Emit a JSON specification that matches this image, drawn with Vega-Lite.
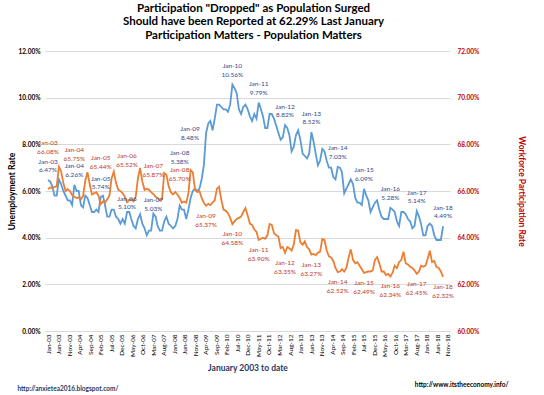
{
"$schema": "https://vega.github.io/schema/vega-lite/v6.json",
"width": 405, "height": 280,
"autosize": "none",
"padding": {"left": 45, "top": 51, "right": 94, "bottom": 64},
"background": "white",
"title": {"text": ["Participation \"Dropped\" as Population Surged", "Should have been Reported at 62.29%  Last January", "Participation Matters - Population Matters"], "fontSize": 11.5, "font": "Lato", "fontWeight": "bold", "lineHeight": 13.5, "anchor": "middle", "offset": 7, "dx": 6, "color": "#000000"},
"data": {"format": {"parse": {"d": "date:'%Y-%m'"}}, "values": [
{"d":"2003-01","u":0.0647,"p":0.6608},{"d":"2003-02","u":0.064,"p":0.6615},{"d":"2003-03","u":0.062,"p":0.6612},{"d":"2003-04","u":0.058,"p":0.6618},{"d":"2003-05","u":0.058,"p":0.6620},{"d":"2003-06","u":0.065,"p":0.6704},{"d":"2003-07","u":0.063,"p":0.6685},{"d":"2003-08","u":0.060,"p":0.6635},{"d":"2003-09","u":0.058,"p":0.6600},{"d":"2003-10","u":0.056,"p":0.6608},{"d":"2003-11","u":0.056,"p":0.6600},{"d":"2003-12","u":0.054,"p":0.6582},
{"d":"2004-01","u":0.0626,"p":0.6575},{"d":"2004-02","u":0.060,"p":0.6570},{"d":"2004-03","u":0.060,"p":0.6572},{"d":"2004-04","u":0.054,"p":0.6565},{"d":"2004-05","u":0.053,"p":0.6578},{"d":"2004-06","u":0.058,"p":0.6645},{"d":"2004-07","u":0.057,"p":0.6680},{"d":"2004-08","u":0.054,"p":0.6630},{"d":"2004-09","u":0.051,"p":0.6585},{"d":"2004-10","u":0.051,"p":0.6590},{"d":"2004-11","u":0.052,"p":0.6595},{"d":"2004-12","u":0.051,"p":0.6580},
{"d":"2005-01","u":0.0574,"p":0.6544},{"d":"2005-02","u":0.058,"p":0.6555},{"d":"2005-03","u":0.054,"p":0.6550},{"d":"2005-04","u":0.049,"p":0.6565},{"d":"2005-05","u":0.049,"p":0.6580},{"d":"2005-06","u":0.052,"p":0.6655},{"d":"2005-07","u":0.052,"p":0.6683},{"d":"2005-08","u":0.049,"p":0.6635},{"d":"2005-09","u":0.048,"p":0.6605},{"d":"2005-10","u":0.046,"p":0.6600},{"d":"2005-11","u":0.048,"p":0.6590},{"d":"2005-12","u":0.046,"p":0.6575},
{"d":"2006-01","u":0.0510,"p":0.6552},{"d":"2006-02","u":0.051,"p":0.6560},{"d":"2006-03","u":0.048,"p":0.6565},{"d":"2006-04","u":0.045,"p":0.6555},{"d":"2006-05","u":0.044,"p":0.6575},{"d":"2006-06","u":0.048,"p":0.6655},{"d":"2006-07","u":0.050,"p":0.6699},{"d":"2006-08","u":0.046,"p":0.6640},{"d":"2006-09","u":0.044,"p":0.6605},{"d":"2006-10","u":0.041,"p":0.6610},{"d":"2006-11","u":0.043,"p":0.6605},{"d":"2006-12","u":0.043,"p":0.6595},
{"d":"2007-01","u":0.0503,"p":0.6587},{"d":"2007-02","u":0.049,"p":0.6575},{"d":"2007-03","u":0.045,"p":0.6570},{"d":"2007-04","u":0.043,"p":0.6560},{"d":"2007-05","u":0.043,"p":0.6565},{"d":"2007-06","u":0.047,"p":0.6677},{"d":"2007-07","u":0.049,"p":0.6670},{"d":"2007-08","u":0.046,"p":0.6620},{"d":"2007-09","u":0.045,"p":0.6595},{"d":"2007-10","u":0.044,"p":0.6585},{"d":"2007-11","u":0.045,"p":0.6595},{"d":"2007-12","u":0.048,"p":0.6585},
{"d":"2008-01","u":0.0538,"p":0.6570},{"d":"2008-02","u":0.052,"p":0.6550},{"d":"2008-03","u":0.052,"p":0.6555},{"d":"2008-04","u":0.048,"p":0.6550},{"d":"2008-05","u":0.052,"p":0.6590},{"d":"2008-06","u":0.057,"p":0.6690},{"d":"2008-07","u":0.060,"p":0.6680},{"d":"2008-08","u":0.061,"p":0.6605},{"d":"2008-09","u":0.060,"p":0.6595},{"d":"2008-10","u":0.061,"p":0.6600},{"d":"2008-11","u":0.065,"p":0.6570},{"d":"2008-12","u":0.071,"p":0.6550},
{"d":"2009-01","u":0.0848,"p":0.6537},{"d":"2009-02","u":0.089,"p":0.6545},{"d":"2009-03","u":0.090,"p":0.6540},{"d":"2009-04","u":0.086,"p":0.6550},{"d":"2009-05","u":0.091,"p":0.6560},{"d":"2009-06","u":0.097,"p":0.6610},{"d":"2009-07","u":0.097,"p":0.6618},{"d":"2009-08","u":0.096,"p":0.6560},{"d":"2009-09","u":0.095,"p":0.6520},{"d":"2009-10","u":0.095,"p":0.6515},{"d":"2009-11","u":0.094,"p":0.6505},{"d":"2009-12","u":0.097,"p":0.6485},
{"d":"2010-01","u":0.1056,"p":0.6458},{"d":"2010-02","u":0.104,"p":0.6470},{"d":"2010-03","u":0.102,"p":0.6480},{"d":"2010-04","u":0.095,"p":0.6485},{"d":"2010-05","u":0.093,"p":0.6490},{"d":"2010-06","u":0.096,"p":0.6510},{"d":"2010-07","u":0.097,"p":0.6527},{"d":"2010-08","u":0.095,"p":0.6495},{"d":"2010-09","u":0.092,"p":0.6460},{"d":"2010-10","u":0.090,"p":0.6455},{"d":"2010-11","u":0.093,"p":0.6435},{"d":"2010-12","u":0.091,"p":0.6425},
{"d":"2011-01","u":0.0979,"p":0.6390},{"d":"2011-02","u":0.095,"p":0.6395},{"d":"2011-03","u":0.092,"p":0.6400},{"d":"2011-04","u":0.087,"p":0.6395},{"d":"2011-05","u":0.087,"p":0.6410},{"d":"2011-06","u":0.093,"p":0.6459},{"d":"2011-07","u":0.093,"p":0.6455},{"d":"2011-08","u":0.091,"p":0.6420},{"d":"2011-09","u":0.088,"p":0.6410},{"d":"2011-10","u":0.085,"p":0.6405},{"d":"2011-11","u":0.082,"p":0.6355},{"d":"2011-12","u":0.083,"p":0.6360},
{"d":"2012-01","u":0.0882,"p":0.6335},{"d":"2012-02","u":0.087,"p":0.6360},{"d":"2012-03","u":0.084,"p":0.6355},{"d":"2012-04","u":0.077,"p":0.6345},{"d":"2012-05","u":0.079,"p":0.6370},{"d":"2012-06","u":0.084,"p":0.6433},{"d":"2012-07","u":0.086,"p":0.6430},{"d":"2012-08","u":0.082,"p":0.6380},{"d":"2012-09","u":0.076,"p":0.6370},{"d":"2012-10","u":0.075,"p":0.6385},{"d":"2012-11","u":0.074,"p":0.6360},{"d":"2012-12","u":0.076,"p":0.6350},
{"d":"2013-01","u":0.0852,"p":0.6327},{"d":"2013-02","u":0.081,"p":0.6330},{"d":"2013-03","u":0.076,"p":0.6325},{"d":"2013-04","u":0.071,"p":0.6335},{"d":"2013-05","u":0.073,"p":0.6340},{"d":"2013-06","u":0.078,"p":0.6394},{"d":"2013-07","u":0.077,"p":0.6390},{"d":"2013-08","u":0.073,"p":0.6345},{"d":"2013-09","u":0.070,"p":0.6320},{"d":"2013-10","u":0.070,"p":0.6315},{"d":"2013-11","u":0.066,"p":0.6300},{"d":"2013-12","u":0.065,"p":0.6270},
{"d":"2014-01","u":0.0703,"p":0.6252},{"d":"2014-02","u":0.070,"p":0.6255},{"d":"2014-03","u":0.068,"p":0.6265},{"d":"2014-04","u":0.059,"p":0.6255},{"d":"2014-05","u":0.061,"p":0.6270},{"d":"2014-06","u":0.063,"p":0.6315},{"d":"2014-07","u":0.065,"p":0.6350},{"d":"2014-08","u":0.063,"p":0.6305},{"d":"2014-09","u":0.057,"p":0.6290},{"d":"2014-10","u":0.055,"p":0.6295},{"d":"2014-11","u":0.055,"p":0.6280},{"d":"2014-12","u":0.054,"p":0.6265},
{"d":"2015-01","u":0.0609,"p":0.6249},{"d":"2015-02","u":0.058,"p":0.6252},{"d":"2015-03","u":0.056,"p":0.6255},{"d":"2015-04","u":0.051,"p":0.6255},{"d":"2015-05","u":0.053,"p":0.6260},{"d":"2015-06","u":0.055,"p":0.6305},{"d":"2015-07","u":0.056,"p":0.6317},{"d":"2015-08","u":0.052,"p":0.6290},{"d":"2015-09","u":0.049,"p":0.6255},{"d":"2015-10","u":0.048,"p":0.6255},{"d":"2015-11","u":0.048,"p":0.6240},{"d":"2015-12","u":0.048,"p":0.6245},
{"d":"2016-01","u":0.0528,"p":0.6234},{"d":"2016-02","u":0.052,"p":0.6250},{"d":"2016-03","u":0.051,"p":0.6280},{"d":"2016-04","u":0.047,"p":0.6270},{"d":"2016-05","u":0.045,"p":0.6295},{"d":"2016-06","u":0.051,"p":0.6305},{"d":"2016-07","u":0.051,"p":0.6340},{"d":"2016-08","u":0.050,"p":0.6290},{"d":"2016-09","u":0.048,"p":0.6285},{"d":"2016-10","u":0.047,"p":0.6275},{"d":"2016-11","u":0.044,"p":0.6270},{"d":"2016-12","u":0.045,"p":0.6260},
{"d":"2017-01","u":0.0514,"p":0.6245},{"d":"2017-02","u":0.049,"p":0.6255},{"d":"2017-03","u":0.046,"p":0.6280},{"d":"2017-04","u":0.041,"p":0.6275},{"d":"2017-05","u":0.041,"p":0.6280},{"d":"2017-06","u":0.045,"p":0.6310},{"d":"2017-07","u":0.046,"p":0.6344},{"d":"2017-08","u":0.045,"p":0.6295},{"d":"2017-09","u":0.041,"p":0.6300},{"d":"2017-10","u":0.039,"p":0.6275},{"d":"2017-11","u":0.039,"p":0.6270},{"d":"2017-12","u":0.039,"p":0.6255},
{"d":"2018-01","u":0.0449,"p":0.6232}
]},
"layer": [
{"data": {"format": {"parse": {"d": "date:'%Y-%m'"}}, "values": [{"d":"2003-01"},{"d":"2018-11"}]},
 "mark": {"type": "rule", "opacity": 0},
 "encoding": {"x": {"field": "d", "type": "temporal",
   "scale": {"domain": [{"year":2002,"month":11,"date":18},{"year":2018,"month":12,"date":1}]},
   "axis": {"orient": "bottom", "values": [
     {"year":2003,"month":1},{"year":2003,"month":6},{"year":2003,"month":11},{"year":2004,"month":4},{"year":2004,"month":9},
     {"year":2005,"month":2},{"year":2005,"month":7},{"year":2005,"month":12},{"year":2006,"month":5},{"year":2006,"month":10},
     {"year":2007,"month":3},{"year":2007,"month":8},{"year":2008,"month":1},{"year":2008,"month":6},{"year":2008,"month":11},
     {"year":2009,"month":4},{"year":2009,"month":9},{"year":2010,"month":2},{"year":2010,"month":7},{"year":2010,"month":12},
     {"year":2011,"month":5},{"year":2011,"month":10},{"year":2012,"month":3},{"year":2012,"month":8},{"year":2013,"month":1},
     {"year":2013,"month":6},{"year":2013,"month":11},{"year":2014,"month":4},{"year":2014,"month":9},{"year":2015,"month":2},
     {"year":2015,"month":7},{"year":2015,"month":12},{"year":2016,"month":5},{"year":2016,"month":10},{"year":2017,"month":3},
     {"year":2017,"month":8},{"year":2018,"month":1},{"year":2018,"month":6},{"year":2018,"month":11}],
     "format": "%b-%y", "labelAngle": -90, "labelFontSize": 6.5, "labelColor": "#000000", "labelPadding": 3,
     "grid": false, "ticks": false, "domain": false, "labelOverlap": false,
     "title": "January 2003 to date", "titleFontSize": 8.5, "titleFontWeight": "bold", "titleColor": "#1F3864", "titlePadding": 7}}}
},
{"mark": {"type": "line", "color": "#5B9BD5", "strokeWidth": 1.8},
 "encoding": {
  "x": {"field": "d", "type": "temporal", "scale": {"domain": [{"year":2002,"month":11,"date":20},{"year":2018,"month":4,"date":7}]},
    "axis": {"orient": "bottom", "labels": false, "ticks": false, "domain": false, "grid": false,
      "title": "http://anxietea2016.blogspot.com/", "titleX": -28, "titleY": 57, "titleAlign": "left", "titleAngle": 0, "titleBaseline": "middle",
      "titleFontSize": 6.5, "titleFontWeight": "bold", "titleColor": "#1F3864"}},
  "y": {"field": "u", "type": "quantitative", "scale": {"domain": [0, 0.12]},
    "axis": {"orient": "left", "values": [0,0.02,0.04,0.06,0.08,0.10,0.12], "format": ".2%", "grid": true, "gridColor": "#D9D9D9",
      "domain": false, "ticks": false, "labelFontSize": 6.5, "labelFontWeight": "bold", "labelColor": "#000000", "labelPadding": 5,
      "title": "Unemployment Rate", "titleFontSize": 8.5, "titleFontWeight": "bold", "titleColor": "#000000", "titlePadding": 2}}}
},
{"mark": {"type": "line", "color": "#ED7D31", "strokeWidth": 1.8},
 "encoding": {
  "x": {"field": "d", "type": "temporal", "scale": {"domain": [{"year":2002,"month":11,"date":20},{"year":2018,"month":4,"date":7}]},
    "axis": {"orient": "bottom", "labels": false, "ticks": false, "domain": false, "grid": false,
      "title": "http://www.itstheeconomy.info/", "titleX": 463, "titleY": 53, "titleAlign": "right", "titleAngle": 0, "titleBaseline": "middle",
      "titleFontSize": 6.5, "titleFontWeight": "bold", "titleColor": "#000000"}},
  "y": {"field": "p", "type": "quantitative", "scale": {"domain": [0.60, 0.72]},
    "axis": {"orient": "right", "values": [0.60,0.62,0.64,0.66,0.68,0.70,0.72], "format": ".2%", "grid": false,
      "domain": false, "ticks": false, "labelFontSize": 6.5, "labelFontWeight": "bold", "labelColor": "#C00000", "labelPadding": 7,
      "title": "Workforce Participation Rate", "titleFontSize": 8.5, "titleFontWeight": "bold", "titleColor": "#C00000", "titlePadding": 38}}}
},
{"transform": [{"filter": "month(datum.d) == 0 && (year(datum.d) <= 2005 || year(datum.d) >= 2010)"}],
 "encoding": {"x": {"field": "d", "type": "temporal", "scale": {"domain": [{"year":2002,"month":11,"date":20},{"year":2018,"month":4,"date":7}]}, "axis": null},
   "y": {"field": "u", "type": "quantitative", "scale": {"domain": [0, 0.12]}, "axis": null}},
 "layer": [
  {"mark": {"type": "text", "dy": -18.5, "fontSize": 6.5, "color": "#34498A"}, "encoding": {"text": {"field": "d", "type": "temporal", "format": "%b-%y"}}},
  {"mark": {"type": "text", "dy": -10, "fontSize": 6.5, "color": "#34498A"}, "encoding": {"text": {"field": "u", "type": "quantitative", "format": ".2%"}}}
 ]},
{"transform": [{"filter": "month(datum.d) == 0 && (year(datum.d) == 2006 || year(datum.d) == 2007)"}],
 "encoding": {"x": {"field": "d", "type": "temporal", "scale": {"domain": [{"year":2002,"month":11,"date":20},{"year":2018,"month":4,"date":7}]}, "axis": null},
   "y": {"field": "u", "type": "quantitative", "scale": {"domain": [0, 0.12]}, "axis": null}},
 "layer": [
  {"mark": {"type": "text", "dy": -13.5, "fontSize": 6.5, "color": "#34498A"}, "encoding": {"text": {"field": "d", "type": "temporal", "format": "%b-%y"}}},
  {"mark": {"type": "text", "dy": -5, "fontSize": 6.5, "color": "#34498A"}, "encoding": {"text": {"field": "u", "type": "quantitative", "format": ".2%"}}}
 ]},
{"transform": [{"filter": "month(datum.d) == 0 && year(datum.d) == 2008"}],
 "encoding": {"x": {"field": "d", "type": "temporal", "scale": {"domain": [{"year":2002,"month":11,"date":20},{"year":2018,"month":4,"date":7}]}, "axis": null},
   "y": {"field": "u", "type": "quantitative", "scale": {"domain": [0, 0.12]}, "axis": null}},
 "layer": [
  {"mark": {"type": "text", "dy": -52, "fontSize": 6.5, "color": "#34498A"}, "encoding": {"text": {"field": "d", "type": "temporal", "format": "%b-%y"}}},
  {"mark": {"type": "text", "dy": -43, "fontSize": 6.5, "color": "#34498A"}, "encoding": {"text": {"field": "u", "type": "quantitative", "format": ".2%"}}}
 ]},
{"transform": [{"filter": "month(datum.d) == 0 && year(datum.d) == 2009"}],
 "encoding": {"x": {"field": "d", "type": "temporal", "scale": {"domain": [{"year":2002,"month":11,"date":20},{"year":2018,"month":4,"date":7}]}, "axis": null},
   "y": {"field": "u", "type": "quantitative", "scale": {"domain": [0, 0.12]}, "axis": null}},
 "layer": [
  {"mark": {"type": "text", "dy": -4, "dx": -16, "fontSize": 6.5, "color": "#34498A"}, "encoding": {"text": {"field": "d", "type": "temporal", "format": "%b-%y"}}},
  {"mark": {"type": "text", "dy": 5, "dx": -16, "fontSize": 6.5, "color": "#34498A"}, "encoding": {"text": {"field": "u", "type": "quantitative", "format": ".2%"}}}
 ]},
{"transform": [{"filter": "month(datum.d) == 0 && year(datum.d) <= 2006"}],
 "encoding": {"x": {"field": "d", "type": "temporal", "scale": {"domain": [{"year":2002,"month":11,"date":20},{"year":2018,"month":4,"date":7}]}, "axis": null},
   "y": {"field": "p", "type": "quantitative", "scale": {"domain": [0.60, 0.72]}, "axis": null}},
 "layer": [
  {"mark": {"type": "text", "dy": -46.5, "fontSize": 6.5, "color": "#C0392B"}, "encoding": {"text": {"field": "d", "type": "temporal", "format": "%b-%y"}}},
  {"mark": {"type": "text", "dy": -37.5, "fontSize": 6.5, "color": "#C0392B"}, "encoding": {"text": {"field": "p", "type": "quantitative", "format": ".2%"}}}
 ]},
{"transform": [{"filter": "month(datum.d) == 0 && (year(datum.d) == 2007 || year(datum.d) == 2008)"}],
 "encoding": {"x": {"field": "d", "type": "temporal", "scale": {"domain": [{"year":2002,"month":11,"date":20},{"year":2018,"month":4,"date":7}]}, "axis": null},
   "y": {"field": "p", "type": "quantitative", "scale": {"domain": [0.60, 0.72]}, "axis": null}},
 "layer": [
  {"mark": {"type": "text", "dy": -28.5, "fontSize": 6.5, "color": "#C0392B"}, "encoding": {"text": {"field": "d", "type": "temporal", "format": "%b-%y"}}},
  {"mark": {"type": "text", "dy": -19.5, "fontSize": 6.5, "color": "#C0392B"}, "encoding": {"text": {"field": "p", "type": "quantitative", "format": ".2%"}}}
 ]},
{"transform": [{"filter": "month(datum.d) == 0 && year(datum.d) >= 2009"}],
 "encoding": {"x": {"field": "d", "type": "temporal", "scale": {"domain": [{"year":2002,"month":11,"date":20},{"year":2018,"month":4,"date":7}]}, "axis": null},
   "y": {"field": "p", "type": "quantitative", "scale": {"domain": [0.60, 0.72]}, "axis": null}},
 "layer": [
  {"mark": {"type": "text", "dy": 10, "fontSize": 6.5, "color": "#C0392B"}, "encoding": {"text": {"field": "d", "type": "temporal", "format": "%b-%y"}}},
  {"mark": {"type": "text", "dy": 19, "fontSize": 6.5, "color": "#C0392B"}, "encoding": {"text": {"field": "p", "type": "quantitative", "format": ".2%"}}}
 ]}
],
"resolve": {"scale": {"x": "independent", "y": "independent"}, "axis": {"x": "independent", "y": "independent"}},
"config": {"font": "Lato", "view": {"stroke": null}, "text": {"font": "Lato"}}
}
